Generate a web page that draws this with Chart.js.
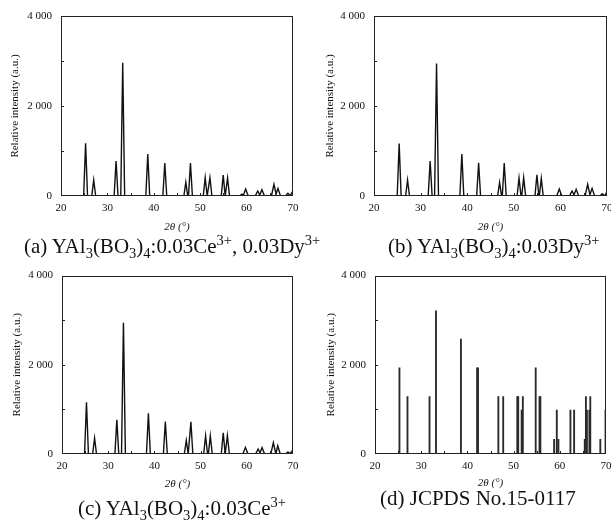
<!DOCTYPE html>
<html>
<head>
<meta charset="utf-8">
<script src="https://cdn.jsdelivr.net/npm/chart.js@4.4.1/dist/chart.umd.min.js"></script>
<style>
    html, body { margin: 0; padding: 0; background: #fff; width: 611px; height: 520px; overflow: hidden; position: relative; }
    .panel { position: absolute; }
    .caption { position: absolute; font-family: 'Liberation Serif', serif; font-size: 21px; color: #111; white-space: nowrap; line-height: 22px; }
    .caption sub, .caption sup { font-size: 14.5px; line-height: 0; }
</style>
</head>
<body>
<div class="panel" style="left:0;top:0;width:305px;height:236px"><canvas id="chartA"></canvas></div>
<div class="panel" style="left:310px;top:0;width:310px;height:236px"><canvas id="chartB"></canvas></div>
<div class="panel" style="left:0;top:260px;width:305px;height:236px"><canvas id="chartC"></canvas></div>
<div class="panel" style="left:310px;top:260px;width:310px;height:236px"><canvas id="chartD"></canvas></div>

<div class="caption" style="left:24px;top:235px">(a) YAl<sub>3</sub>(BO<sub>3</sub>)<sub>4</sub>:0.03Ce<sup>3+</sup>, 0.03Dy<sup>3+</sup></div>
<div class="caption" style="left:388px;top:235px">(b) YAl<sub>3</sub>(BO<sub>3</sub>)<sub>4</sub>:0.03Dy<sup>3+</sup></div>
<div class="caption" style="left:78px;top:497px">(c) YAl<sub>3</sub>(BO<sub>3</sub>)<sub>4</sub>:0.03Ce<sup>3+</sup></div>
<div class="caption" style="left:380px;top:487px">(d) JCPDS No.15-0117</div>

<script>
// axis ticks
const xTickValues = [20, 30, 40, 50, 60, 70];
const yTickValues = [0, 2000, 4000];
const xMinorTicks = [25, 30, 35, 40, 45, 50, 55, 60, 65];
const yMinorTicks = [1000, 2000, 3000];

// (a) YAl3(BO3)4:0.03Ce3+, 0.03Dy3+  - peak positions (2θ) and heights
const peaksA = [25.3, 27.05, 31.87, 33.3, 38.7, 42.37, 46.9, 47.9, 51.08, 52.1, 54.96, 55.9, 59.0, 59.8, 62.4, 63.3, 65.9, 66.76, 68.9, 69.9];
const heightsA = [1170, 355, 778, 2963, 933, 733, 304, 733, 407, 407, 467, 400, 40, 155, 111, 141, 259, 170, 59, 96];

// (b) YAl3(BO3)4:0.03Dy3+
const peaksB = [25.4, 27.2, 32.05, 33.42, 38.85, 42.45, 46.95, 47.95, 51.12, 52.12, 54.96, 55.9, 59.76, 62.5, 63.38, 65.85, 66.8, 69.0, 69.93];
const heightsB = [1168, 355, 776, 2943, 932, 739, 303, 732, 400, 407, 473, 392, 155, 111, 148, 259, 170, 52, 89];

// (c) YAl3(BO3)4:0.03Ce3+
const peaksC = [25.3, 27.05, 31.87, 33.3, 38.7, 42.37, 46.9, 47.9, 51.08, 52.1, 54.9, 55.8, 59.7, 62.45, 63.3, 65.75, 66.7, 68.9, 69.9];
const heightsC = [1160, 357, 766, 2944, 914, 729, 305, 721, 409, 409, 476, 409, 149, 112, 141, 253, 186, 45, 82];

// (d) JCPDS No.15-0117 reference lines
const sticksD = [25.29, 27.03, 31.8, 33.2, 38.6, 42.1, 42.3, 46.7, 47.75, 50.8, 51.0, 51.74, 52.0, 54.78, 55.6, 55.8, 58.77, 59.35, 59.7, 62.3, 63.1, 65.4, 65.65, 65.87, 66.4, 66.6, 68.77, 69.9];
const heightsD = [1930, 1290, 1290, 3210, 2577, 1930, 1930, 1290, 1290, 1290, 1290, 983, 1290, 1930, 1290, 1290, 328, 983, 328, 983, 983, 328, 1290, 983, 983, 1290, 328, 983];

const FONT = "'Liberation Serif', 'Times New Roman', serif";

// each read peak becomes base-top-base along a flat baseline
// (weak, high-angle reflections are broader in the scan)
function peakLine(peaks, heights) {
    const pts = [{ x: 20, y: 0 }];
    peaks.forEach((p, i) => {
        const w = heights[i] < 300 ? 0.55 : 0.42;
        pts.push({ x: p - w, y: 0 });
        pts.push({ x: p, y: heights[i] });
        pts.push({ x: p + w, y: 0 });
    });
    pts.push({ x: 70, y: 0 });
    return pts;
}

function fmt(v) {
    return v >= 1000 ? String(v).replace(/(\d)(\d{3})$/, '$1 $2') : String(v);
}

// plot frame plus short inward ticks
const frameTicks = {
    id: 'frameTicks',
    afterDatasetsDraw(chart) {
        const { ctx, chartArea: a, scales: { x, y } } = chart;
        ctx.save();
        ctx.strokeStyle = '#222';
        ctx.lineWidth = 1;
        ctx.strokeRect(Math.round(a.left) + 0.5, Math.round(a.top) + 0.5, Math.round(a.width) - 1, Math.round(a.height) - 1);
        ctx.beginPath();
        xMinorTicks.forEach(v => {
            const px = Math.round(x.getPixelForValue(v)) + 0.5;
            ctx.moveTo(px, a.bottom);
            ctx.lineTo(px, a.bottom - 3);
        });
        yMinorTicks.forEach(v => {
            const py = Math.round(y.getPixelForValue(v)) + 0.5;
            ctx.moveTo(a.left, py);
            ctx.lineTo(a.left + 3, py);
        });
        ctx.stroke();
        ctx.restore();
    }
};

function makeChart(id, type, dataset, box) {
    const ctx = document.getElementById(id).getContext('2d');
    return new Chart(ctx, {
        type: type,
        data: { datasets: [dataset] },
        plugins: [frameTicks],
        options: {
            responsive: true,
            maintainAspectRatio: false,
            animation: false,
            events: [],
            layout: { padding: { top: box.top, right: box.right, bottom: 0, left: 0 } },
            plugins: { legend: { display: false }, tooltip: { enabled: false } },
            scales: {
                x: {
                    type: 'linear',
                    min: 20,
                    max: 70,
                    offset: false,
                    grid: { display: false, drawTicks: false },
                    border: { display: false },
                    afterBuildTicks: s => { s.ticks = xTickValues.map(v => ({ value: v })); },
                    afterFit: s => { s.height = box.bottomH; },
                    ticks: { color: '#111', padding: 6, maxRotation: 0, font: { family: FONT, size: 11 } },
                    title: {
                        display: true,
                        text: '2θ (°)',
                        color: '#111',
                        padding: { top: 0, bottom: box.xTitlePad },
                        font: { family: FONT, size: 11, style: 'italic' }
                    }
                },
                y: {
                    min: 0,
                    max: 4000,
                    grid: { display: false, drawTicks: false },
                    border: { display: false },
                    afterBuildTicks: s => { s.ticks = yTickValues.map(v => ({ value: v })); },
                    afterFit: s => { s.width = box.left; },
                    ticks: { color: '#111', padding: 9, callback: v => fmt(v), font: { family: FONT, size: 11 } },
                    title: {
                        display: true,
                        text: 'Relative intensity (a.u.)',
                        color: '#111',
                        padding: { top: box.yTitlePad, bottom: 0 },
                        font: { family: FONT, size: 11 }
                    }
                }
            }
        }
    });
}

function lineSet(peaks, heights) {
    return {
        data: peakLine(peaks, heights),
        borderColor: '#111',
        borderWidth: 1.4,
        pointRadius: 0,
        tension: 0,
        fill: false
    };
}

makeChart('chartA', 'line', lineSet(peaksA, heightsA),
    { left: 61, top: 16, right: 12, bottomH: 40, xTitlePad: 2.5, yTitlePad: 8.5 });
makeChart('chartB', 'line', lineSet(peaksB, heightsB),
    { left: 64, top: 16, right: 13, bottomH: 40, xTitlePad: 2.5, yTitlePad: 13.5 });
makeChart('chartC', 'line', lineSet(peaksC, heightsC),
    { left: 62, top: 15, right: 12, bottomH: 42, xTitlePad: 5.5, yTitlePad: 10.5 });
makeChart('chartD', 'bar', {
        data: sticksD.map((a, i) => ({ x: a, y: heightsD[i] })),
        backgroundColor: '#2a2a2a',
        barThickness: 1.2,
        borderWidth: 0
    },
    { left: 65, top: 15, right: 14, bottomH: 42, xTitlePad: 6.5, yTitlePad: 14.5 });
</script>
</body>
</html>
